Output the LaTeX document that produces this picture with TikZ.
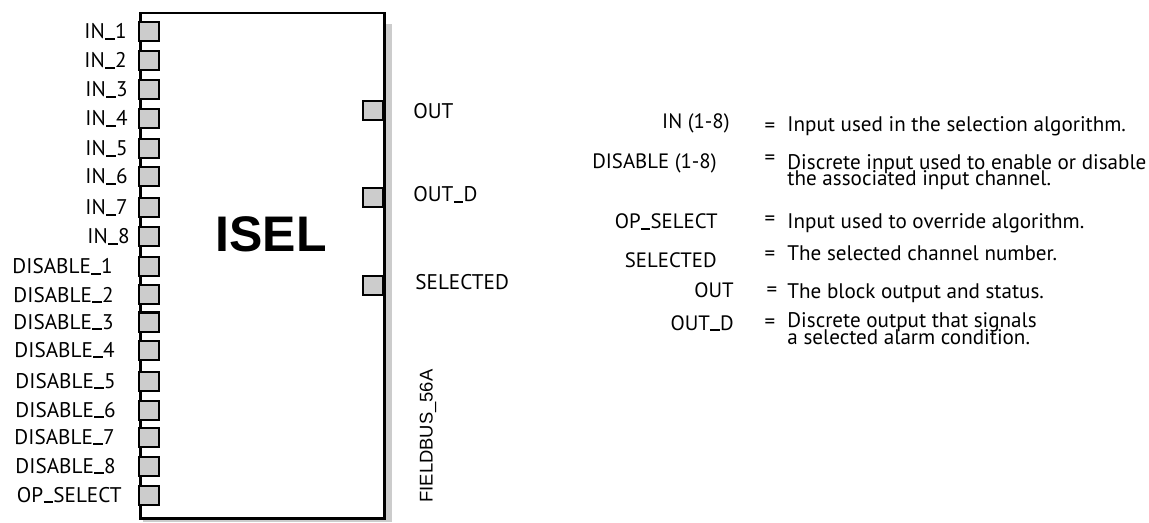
\documentclass[tikz,border=0pt]{standalone}
\usepackage{fontspec}
\setmainfont{PT Sans}
\newfontfamily\arialfont{Liberation Sans}
\newcommand\us{\kern0.02em\rule[-0.35pt]{0.44em}{0.95pt}\kern0.02em}
\definecolor{portgray}{HTML}{CCCCCC}
\definecolor{shadowgray}{HTML}{CCCCCC}
\begin{document}
\begin{tikzpicture}[x=0.5pt,y=-0.5pt,
  port/.style={draw=black, line width=1pt, fill=portgray, minimum width=10pt, minimum height=9.5pt, inner sep=0pt, outer sep=0pt},
  llbl/.style={font=\fontsize{10.6}{13}\selectfont, inner sep=0pt, anchor=base east},
  rlbl/.style={font=\fontsize{10.6}{12}\selectfont, inner sep=0pt, anchor=base west},
  klbl/.style={font=\fontsize{10.4}{12}\selectfont, inner sep=0pt, anchor=base east},
  eqs/.style={font=\fontsize{10.5}{12}\selectfont, inner sep=0pt, anchor=center},
  desc/.style={font=\fontsize{10.55}{12}\selectfont, inner sep=0pt, anchor=base west}]
\useasboundingbox (0,0) rectangle (1149,523);
% shadow and block
\fill[shadowgray] (143,24) rectangle (392,522);
\node[draw=black, line width=1.25pt, fill=white, minimum width=122pt, minimum height=252.5pt, inner sep=0pt, anchor=north west] (blk) at (139,12) {};
\node[font=\arialfont\bfseries\fontsize{25}{30}\selectfont, inner sep=0pt] (isel) at (271,234) {ISEL};
\node[font=\arialfont\fontsize{9.2}{11}\selectfont, inner sep=0pt, rotate=90] (fb) at (428,436) {FIELDBUS\_56A};
% left ports
\foreach \n/\y/\t/\rx in {p1/32/IN\us 1/127, p2/61/IN\us 2/127, p3/90/IN\us 3/128, p4/119/IN\us 4/128, p5/149/IN\us 5/128, p6/177/IN\us 6/128, p7/208/IN\us 7/128, p8/237/IN\us 8/130,
  d1/267/DISABLE\us 1/113, d2/295/DISABLE\us 2/114, d3/322/DISABLE\us 3/114, d4/350/DISABLE\us 4/115, d5/381/DISABLE\us 5/116, d6/410/DISABLE\us 6/116, d7/437/DISABLE\us 7/115, d8/466/DISABLE\us 8/116, op/495/OP\us SELECT/122}{
  \node[port, anchor=west] (\n) at (139,\y) {};
  \node[llbl] (l\n) at (\rx,\y+7) {\t};
}
% right ports
\node[port, anchor=east] (out) at (383,111) {};
\node[port, anchor=east] (outd) at (383,198) {};
\node[port, anchor=east] (sel) at (383,286) {};
\node[rlbl] (lout) at (413,119) {OUT};
\node[rlbl] (loutd) at (413,202) {OUT\us D};
\node[rlbl] (lsel) at (415,290) {SELECTED};
% legend
\node[klbl] (k1) at (730,129) {IN (1-8)};
\node[klbl] (k2) at (717,169) {DISABLE (1-8)};
\node[klbl] (k3) at (718,229) {OP\us SELECT};
\node[klbl] (k4) at (717,268) {SELECTED};
\node[klbl] (k5) at (734,298) {OUT};
\node[klbl] (k6) at (734,330) {OUT\us D};
\node[eqs] (e1) at (770,128) {=};
\node[eqs] (e2) at (770,160) {=};
\node[eqs] (e3) at (770,221) {=};
\node[eqs] (e4) at (770,256) {=};
\node[eqs] (e5) at (772,292) {=};
\node[eqs] (e6) at (770,324) {=};
\node[desc] (t1) at (787,132) {Input used in the selection algorithm.};
\node[desc] (t2a) at (787,170) {Discrete input used to enable or disable};
\node[desc] (t2b) at (787,186) {the associated input channel.};
\node[desc] (t3) at (787,229) {Input used to override algorithm.};
\node[desc] (t4) at (787,261) {The selected channel number.};
\node[desc] (t5) at (787,299) {The block output and status.};
\node[desc] (t6a) at (787,328) {Discrete output that signals};
\node[desc] (t6b) at (787,344) {a selected alarm condition.};
\end{tikzpicture}
\end{document}
